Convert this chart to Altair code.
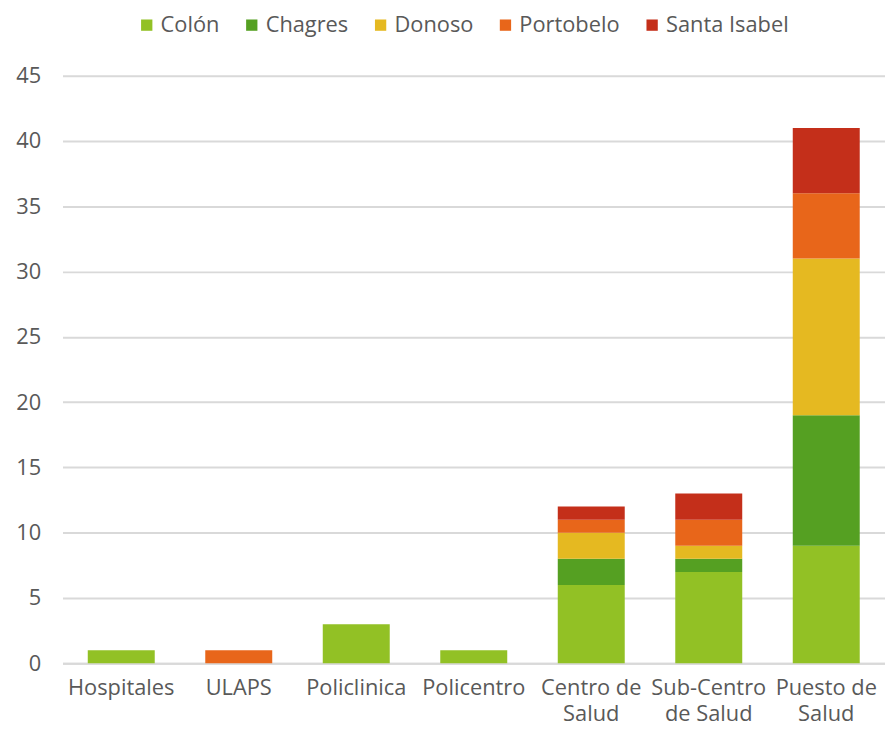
import altair as alt
import pandas as pd

categories = ["Hospitales", "ULAPS", "Policlinica", "Policentro",
              "Centro de\nSalud", "Sub-Centro\nde Salud", "Puesto de\nSalud"]
series = ["Colón", "Chagres", "Donoso", "Portobelo", "Santa Isabel"]
colors = ["#92C125", "#55A022", "#E5B921", "#E8661A", "#C42F1A"]

colon = [1, 0, 3, 1, 6, 7, 9]
chagres = [0, 0, 0, 0, 2, 1, 10]
donoso = [0, 0, 0, 0, 2, 1, 12]
portobelo = [0, 1, 0, 0, 1, 2, 5]
santa_isabel = [0, 0, 0, 0, 1, 2, 5]

values = [colon, chagres, donoso, portobelo, santa_isabel]
rows = []
for si, (name, vals) in enumerate(zip(series, values)):
    for cat, v in zip(categories, vals):
        rows.append({"cat": cat, "serie": name, "idx": si, "val": v})
df = pd.DataFrame(rows)

FONT = "Open Sans"
TXT = "#595959"
FS = 22

chart = alt.Chart(df).mark_bar().encode(
    x=alt.X("cat:N", sort=categories, title=None,
            scale=alt.Scale(paddingInner=0.43, paddingOuter=0.215),
            axis=alt.Axis(labelAngle=0, labelExpr="split(datum.label, '\\n')",
                          labelFontSize=FS, labelColor=TXT, labelFont=FONT,
                          labelLineHeight=27, labelPadding=14, ticks=False,
                          domainColor="#D9D9D9", domainWidth=2, labelBaseline="top")),
    y=alt.Y("val:Q", stack="zero", title=None,
            scale=alt.Scale(domain=[0, 45], nice=False),
            axis=alt.Axis(values=list(range(0, 46, 5)), ticks=False, domain=False,
                          gridColor="#D9D9D9", gridWidth=2, labelFontSize=FS,
                          labelColor=TXT, labelFont=FONT, labelPadding=22)),
    color=alt.Color("serie:N", sort=series,
                    scale=alt.Scale(domain=series, range=colors),
                    legend=alt.Legend(title=None, orient="none", direction="horizontal",
                                      columns=5, legendX=74, legendY=-62,
                                      symbolType="square", symbolSize=130,
                                      symbolStrokeWidth=0, symbolOpacity=1,
                                      labelFontSize=FS, labelColor=TXT, labelFont=FONT,
                                      labelOffset=3, columnPadding=21)),
    order=alt.Order("idx:Q", sort="ascending"),
).properties(
    width=830, height=593,
    autosize=alt.AutoSizeParams(type="none"),
    padding={"left": 55, "top": 65, "right": 0, "bottom": 63},
).configure_view(stroke=None)

chart.save("out.html", embed_options={"renderer": "svg", "actions": False})
